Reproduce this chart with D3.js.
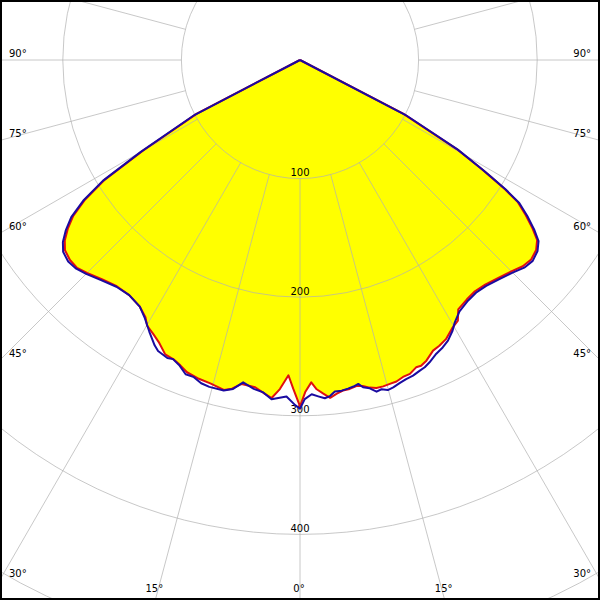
<!DOCTYPE html>
<html>
<head>
<meta charset="utf-8">
<script src="https://cdn.jsdelivr.net/npm/d3@7"></script>
<style>
html,body{margin:0;padding:0;background:#fff;}
svg{display:block;}
text{font-family:"DejaVu Sans",Verdana,sans-serif;font-size:10px;fill:#000;}
</style>
</head>
<body>
<div id="chart"></div>
<script>
// Polar luminous intensity data (gamma angle in degrees, 0 = straight down; negative = left)
const blueAngles = [-65,-62.5,-60,-58.5,-57,-55.5,-54,-52.5,-51,-49,
  -47,-45,-42,-39,-36,-33,-31,-29,-27,-26,
  -24,-23,-21.5,-20,-18.5,-17,-15.5,-13,-11.5,-10,
  -8,-6.3,-4.8,-2.3,-0.8,0,0.8,2,3.1,4.2,
  5.1,6,7.2,8.3,9.3,10.2,10.9,12,13,13.9,
  14.9,15.9,17.2,18.4,19.7,21.1,22.1,23.2,24.9,26.4,
  27.8,29.4,30.5,32.4,34.9,37.1,39.5,42.3,45,47.2,
  49.2,51.2,52.8,54.1,55.5,56.9,57.8,58.5,59,60.4,
  62.5,65];
const blueValues = [0,100,155,195,218,234,244,252,257,259,
  258,255,250,246,245,248,254,262,270,273,
  275,274,277,282,282,285,286,286,283,276,
  280,282,287,284,291,294,286,282,284,286,
  284.5,281,281,280,279,277.5,281,283,287,286,
  288,287,285,283.5,282.7,280.7,279.6,277.3,273,270.6,
  267.5,262,257,251,247.5,246,246.8,249.8,253.5,257.7,
  259.2,257,252.5,243.7,232.7,220.7,205,190,180,153,
  100,0];

const redAngles = [-65,-62.5,-60,-58.5,-57,-55.5,-54,-52.5,-51,-49,
  -47,-45,-42,-39,-36,-33,-31,-29.9,-28.2,-26.6,
  -24.6,-22.9,-21.4,-19.9,-17.6,-15.5,-13,-11.7,-10.2,-7.8,
  -6,-4.8,-3.5,-2.1,-1.2,0,0.9,2,2.9,4,
  5.1,6.3,7.4,8.6,9.8,10.9,12,13.1,14.3,15.5,
  16.7,18,19.3,20.7,21.6,22.8,24.6,26,27.6,29.7,
  31.2,32.4,34.9,37.1,39.5,42.3,45,47.2,49.2,51.2,
  52.8,54.1,55.5,56.9,57.8,58.5,59,60.4,62.5,65];
const redValues = [0,98,153,193,216,232,242,250,255,257,
  257,254,249,245.5,245,248,253,258.5,262,266,
  273,274,276.5,280,282,283,285.5,283,277.5,278.5,
  283,286,278,266,277,292,280,272,278,282,
  286,283,281,280.5,279,280,282.4,284,284,283.4,
  283,281,280.4,277,277.3,275,269.5,268,265.6,259.7,
  257,249,246,244.5,245.5,248.5,252,256,257.5,255.5,
  251,242,231,219,204,189,179,152,98,0];

const ringValues = [100,200,300,400,500];
const ringLabels = ["100","200","300","400"];
const spokeAngles = [-180,-165,-150,-135,-120,-105,-90,-75,-60,-45,-30,-15,0,15,30,45,60,75,90,105,120,135,150,165];
const angleLabels = [0,15,30,45,60,75,90];

const W = 600, H = 600, cx = 300, cy = 60;
const r = d3.scaleLinear().domain([0,100]).range([0,118.6]);
const toRad = g => Math.PI - g * Math.PI / 180; // d3 radial: 0 = up, clockwise

const svg = d3.select("#chart").append("svg").attr("width", W).attr("height", H);
const g = svg.append("g").attr("transform", `translate(${cx},${cy})`);

const redPts = redAngles.map((a,i) => [toRad(a), r(redValues[i])]);
const bluePts = blueAngles.map((a,i) => [toRad(a), r(blueValues[i])]);
const radial = d3.lineRadial().angle(d => d[0]).radius(d => d[1]).curve(d3.curveLinear);

svg.append("defs").append("clipPath").attr("id","redclip")
  .append("path").attr("d", radial(redPts) + "Z");

// yellow fill (intersection of both curves)
g.append("path").attr("d", radial(bluePts) + "Z")
  .attr("fill", "#ffff00").attr("stroke", "none")
  .attr("clip-path", "url(#redclip)");

// grid
const grid = g.append("g").attr("stroke", "#b0b0b0").attr("stroke-opacity", 0.7).attr("fill", "none");
ringValues.forEach(v => grid.append("circle").attr("r", r(v)));
const rMax = r(700);
spokeAngles.forEach(a => {
  const t = toRad(a);
  grid.append("line")
    .attr("x1", r(100) * Math.sin(t)).attr("y1", -r(100) * Math.cos(t))
    .attr("x2", rMax * Math.sin(t)).attr("y2", -rMax * Math.cos(t));
});

// ring labels
ringLabels.forEach(v => {
  g.append("text").attr("x", 0).attr("y", r(+v) - 2.5)
    .attr("text-anchor", "middle").text(v);
});

// angle labels at chart edges
angleLabels.forEach(a => {
  const sides = a === 0 ? [1] : [-1, 1];
  sides.forEach(s => {
    const gr = a * Math.PI / 180;
    const dx = Math.sin(gr) * s, dy = Math.cos(gr);
    let tx = Infinity, ty = Infinity;
    if (Math.abs(dx) > 1e-9) tx = (s < 0 ? cx : W - cx) / Math.abs(dx);
    if (dy > 1e-9) ty = (H - cy) / dy;
    const t = Math.min(tx, ty);
    const ex = cx + dx * t, ey = cy + dy * t;
    const txt = svg.append("text").text(a + "°");
    if (ty < tx) {
      txt.attr("x", ex - 1).attr("y", 592).attr("text-anchor", "middle");
    } else if (s < 0) {
      txt.attr("x", 9).attr("y", ey - 3).attr("text-anchor", "start");
    } else {
      txt.attr("x", 591).attr("y", ey - 3).attr("text-anchor", "end");
    }
  });
});

// curves
g.append("path").attr("d", radial(redPts))
  .attr("fill", "none").attr("stroke", "#e01010").attr("stroke-width", 2).attr("stroke-linejoin", "round");
g.append("path").attr("d", radial(bluePts))
  .attr("fill", "none").attr("stroke", "#1a0aa0").attr("stroke-width", 2).attr("stroke-linejoin", "round");

// border
svg.append("rect").attr("x", 0).attr("y", 0).attr("width", W).attr("height", H)
  .attr("fill", "none").attr("stroke", "#000").attr("stroke-width", 4);
</script>
</body>
</html>
